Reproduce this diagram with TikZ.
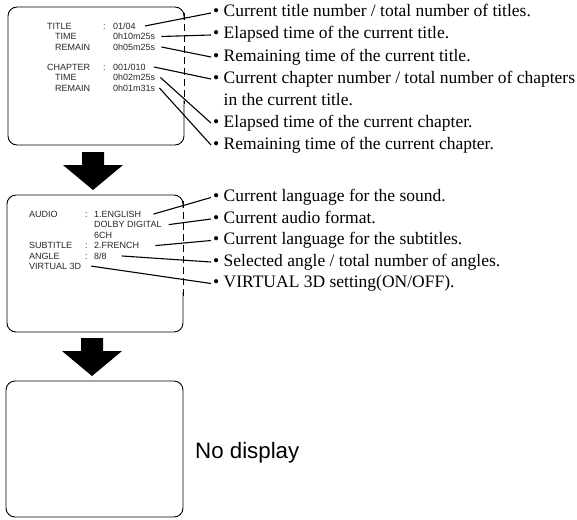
\documentclass[tikz,border=0pt]{standalone}
\usepackage{fontspec}
\setmainfont{Liberation Serif}
\newfontfamily\osdfamily{Liberation Sans}
\usetikzlibrary{positioning,arrows.meta,calc}

\begin{document}
\begin{tikzpicture}[
    x=1pt, y=-1pt,
    osd/.style={font=\osdfamily\fontsize{9}{10}\selectfont, inner sep=0pt, anchor=base west, text=black!85},
    note/.style={font=\fontsize{17.5}{21}\selectfont, inner xsep=2pt, inner ysep=0pt, text height=12pt, text depth=4pt, anchor=west},
    screen/.style={line width=0.9pt, rounded corners=9pt},
    safe area/.style={line width=0.9pt, dash pattern=on 7pt off 4pt},
    lead/.style={line width=1.1pt},
    big arrow/.style={fill=black}
]
    \useasboundingbox (0,0) rectangle (577,519);

    % first screen: title and chapter
    \draw[screen] (184,100) -- (184,145) -- (8,145) -- (8,7) -- (184,7) -- (184,20);
    \draw[safe area] (184,13) -- (184,104);
    \foreach \i/\lab/\x/\y in {1/TITLE/47/26, 2/TIME/55/36.5, 3/REMAIN/55/47, 4/CHAPTER/47/67, 5/TIME/55/77.5, 6/REMAIN/55/88}
      \node[osd] (k1-\i) at (\x,\y+3.2) {\lab};
    \foreach \i/\y in {1/26, 4/67}
      \node[osd] (c1-\i) at (103,\y+3.2) {:};
    \foreach \i/\val/\y in {1/{01/04}/26, 2/0h10m25s/36.5, 3/0h05m25s/47, 4/{001/010}/67, 5/0h02m25s/77.5, 6/0h01m31s/88}
      \node[osd] (v1-\i) at (113,\y+3.2) {\val};

    \foreach \i/\txt/\y in {1/{Current title number / total number of titles.}/13,
                            2/{Elapsed time of the current title.}/35,
                            3/{Remaining time of the current title.}/57,
                            4/{Current chapter number / total number of chapters}/79,
                            6/{Elapsed time of the current chapter.}/123,
                            7/{Remaining time of the current chapter.}/145}
      \node[note] (n1-\i) at (211,\y) {• \txt};
    \node[note] (n1-5) at (211,101) {\hphantom{•} in the current title.};

    \foreach \i/\j/\g in {1/1/9, 2/2/6, 3/3/6, 4/4/8, 5/6/5, 6/7/4}
      \draw[lead] ([xshift=\g pt]v1-\i.east) -- (n1-\j.west);

    % second screen: audio, subtitle, angle
    \draw[screen] (183,292) -- (183,332) -- (7,332) -- (7,195) -- (183,195) -- (183,208);
    \draw[safe area] (183,201) -- (183,296);
    \foreach \i/\lab/\y in {1/AUDIO/214, 2/SUBTITLE/245.5, 3/ANGLE/256, 4/VIRTUAL 3D/266}
      \node[osd] (k2-\i) at (29,\y+3.2) {\lab};
    \foreach \i/\y in {1/214, 2/245.5, 3/256}
      \node[osd] (c2-\i) at (85,\y+3.2) {:};
    \foreach \i/\val/\y in {1/1.ENGLISH/214, 2/DOLBY DIGITAL/224.5, 3/6CH/235, 4/2.FRENCH/245.5, 5/{8/8}/256}
      \node[osd] (v2-\i) at (94,\y+3.2) {\val};

    \foreach \i/\txt/\y in {1/{Current language for the sound.}/197.5,
                            2/{Current audio format.}/219,
                            3/{Current language for the subtitles.}/240.5,
                            4/{Selected angle / total number of angles.}/262,
                            5/{VIRTUAL 3D setting(ON/OFF).}/283.5}
      \node[note] (n2-\i) at (211,\y) {• \txt};

    \foreach \i/\j/\g in {1/1/12, 2/2/7, 4/3/16, 5/4/15}
      \draw[lead] ([xshift=\g pt]v2-\i.east) -- (n2-\j.west);
    \draw[lead] ([xshift=10pt]k2-4.east) -- (n2-5.west);

    % third screen: nothing shown
    \draw[screen] (6,381) rectangle (183,517);
    \node[font=\osdfamily\fontsize{22.3}{26}\selectfont, inner sep=0pt, anchor=base west] (nodisp) at (195,458) {No display};

    % arrows between the screens
    \foreach \x/\y in {93/152, 92/338}
      \fill[big arrow] (\x-11,\y) -- (\x+11,\y) -- (\x+11,\y+13) -- (\x+30,\y+13) -- (\x,\y+38) -- (\x-30,\y+13) -- (\x-11,\y+13) -- cycle;
\end{tikzpicture}
\end{document}
